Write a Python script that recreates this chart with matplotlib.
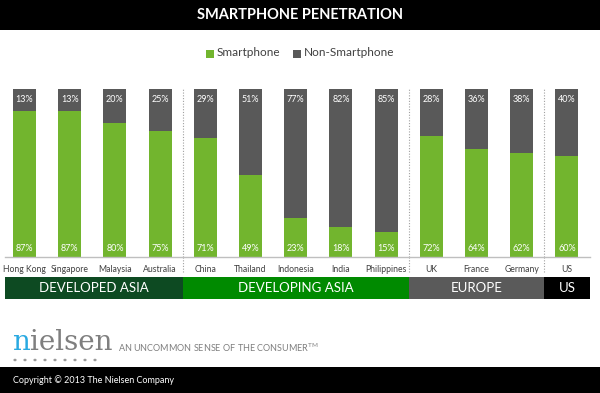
import matplotlib
matplotlib.use("Agg")
import matplotlib.pyplot as plt
from matplotlib.patches import Rectangle

countries = ["Hong Kong", "Singapore", "Malaysia", "Australia", "China", "Thailand",
             "Indonesia", "India", "Philippines", "UK", "France", "Germany", "US"]
smartphone = [87, 87, 80, 75, 71, 49, 23, 18, 15, 72, 64, 62, 60]
non_smartphone = [13, 13, 20, 25, 29, 51, 77, 82, 85, 28, 36, 38, 40]
groups = ["DEVELOPED ASIA", "DEVELOPING ASIA", "EUROPE", "US"]
group_sizes = [4, 5, 3, 1]
group_colors = ["#0d4a22", "#008a00", "#5a5a5a", "#000000"]

GREEN = "#72b52e"
GRAY = "#595959"
W, H = 600, 393

plt.rcParams['font.family'] = ['Lato', 'DejaVu Sans']
fig = plt.figure(figsize=(6, 3.93), dpi=100)
fig.patch.set_facecolor("white")

def fy(py):
    return 1 - py / H

# Title band
fig.patches.append(Rectangle((0, fy(30)), 1, 30 / H, transform=fig.transFigure,
                             facecolor="black", edgecolor="none", zorder=0))
fig.text(0.5, fy(15), "SMARTPHONE PENETRATION", color="white", fontsize=10.5,
         fontweight="bold", ha="center", va="center")

# Legend
fig.patches.append(Rectangle((206 / W, fy(58)), 8 / W, 8 / H, transform=fig.transFigure,
                             facecolor=GREEN, edgecolor="none"))
fig.text(217 / W, fy(53), "Smartphone", fontsize=8.5, color="#404040", va="center")
fig.patches.append(Rectangle((293 / W, fy(58)), 8 / W, 8 / H, transform=fig.transFigure,
                             facecolor=GRAY, edgecolor="none"))
fig.text(304 / W, fy(53), "Non-Smartphone", fontsize=8.5, color="#404040", va="center")

# Bars axes
c0, sp = 24.5, 45.2
left_px, right_px = 5, 590
top_px, base_px = 89, 257
xlo = (left_px - c0) / sp
xhi = (right_px - c0) / sp
ax = fig.add_axes([left_px / W, fy(base_px), (right_px - left_px) / W, (base_px - top_px) / H])
x = list(range(len(countries)))
ax.bar(x, smartphone, width=0.51, color=GREEN, zorder=2)
ax.bar(x, non_smartphone, bottom=smartphone, width=0.51, color=GRAY, zorder=2)
for i in x:
    ax.text(i, 5, f"{smartphone[i]}%", ha="center", va="center", fontsize=6.5,
            color="white", zorder=3)
    ax.text(i, 94, f"{non_smartphone[i]}%", ha="center", va="center", fontsize=6.5,
            color="white", zorder=3)
ax.set_xlim(xlo, xhi)
ax.set_ylim(0, 100)
ax.set_xticks(x)
ax.set_xticklabels(countries, fontsize=6.2, color="#404040")
ax.tick_params(axis="x", length=0, pad=6)
ax.set_yticks([])
for s in ["top", "left", "right"]:
    ax.spines[s].set_visible(False)
ax.spines["bottom"].set_color("#bfbfbf")
ax.spines["bottom"].set_linewidth(1)

# group separators
cum = 0
bounds = []
for gs in group_sizes[:-1]:
    cum += gs
    bounds.append(cum - 0.5)
for b in bounds:
    ax.plot([b, b], [0, 100], color="#a0a0a0", lw=0.8,
            ls=(0, (1, 1.5)), clip_on=False, zorder=1)
    ax.plot([b, b], [0, -9], color="#a0a0a0", lw=0.8, ls=(0, (1, 1.5)),
            clip_on=False, zorder=1)

# Group band axes
gax = fig.add_axes([left_px / W, fy(299), (right_px - left_px) / W, 22 / H])
gax.set_xlim(xlo, xhi)
gax.set_ylim(0, 1)
gax.axis("off")
start = xlo
cum = 0
for g, gs, gc in zip(groups, group_sizes, group_colors):
    cum += gs
    end = xhi if cum == len(countries) else cum - 0.5
    gax.add_patch(Rectangle((start, 0), end - start, 1, facecolor=gc, edgecolor="none"))
    gax.text((start + end) / 2, 0.5, g, color="white", fontsize=9.5, ha="center", va="center")
    start = end

# Nielsen logo
t_n = fig.text(12 / W, fy(343), "n", fontsize=20, color="#29a9e1", family="DejaVu Serif",
               va="center", ha="left")
fig.canvas.draw()
bb = t_n.get_window_extent(renderer=fig.canvas.get_renderer())
x_next = bb.x1 / fig.bbox.width + 0.5 / W
fig.text(x_next, fy(343), "ielsen", fontsize=20, color="#7f7f7f", family="DejaVu Serif",
         va="center", ha="left")
for k in range(9):
    fig.patches.append(plt.Circle(((15 + k * 10) / W, fy(360)), 0.9 / W,
                                  transform=fig.transFigure, color="#9a9a9a"))
fig.text(118 / W, fy(348), "AN UNCOMMON SENSE OF THE CONSUMER$^{\\mathregular{TM}}$",
         fontsize=6.5, color="#7f7f7f", va="center", ha="left")

# Copyright band
fig.patches.append(Rectangle((0, 0), 1, 26 / H, transform=fig.transFigure,
                             facecolor="black", edgecolor="none"))
fig.text(13 / W, fy(380), "Copyright \u00a9 2013 The Nielsen Company", fontsize=6.5,
         color="white", va="center", ha="left")

fig.savefig("out.png", dpi=100)
